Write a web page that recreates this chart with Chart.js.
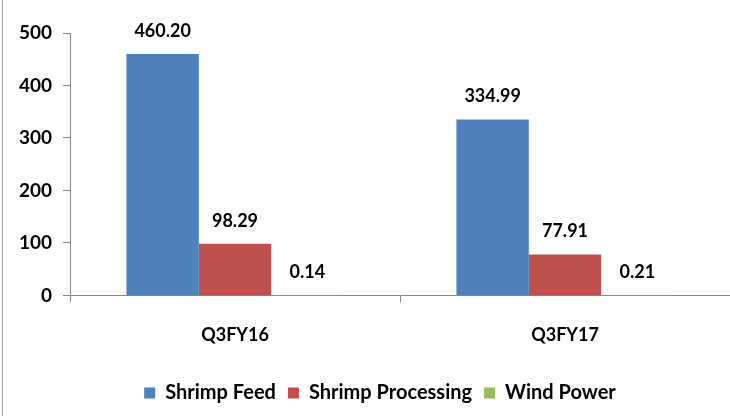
<!DOCTYPE html>
<html><head><meta charset="utf-8">
<script src="https://cdn.jsdelivr.net/npm/chart.js@4"></script>
<style>
html,body{margin:0;padding:0;background:#fff;}
#wrap{position:relative;width:730px;height:416px;overflow:hidden;}
#edge{position:absolute;left:2px;top:0;width:1px;height:416px;background:#a6a6a6;}
canvas{display:block;}
</style></head><body>
<div id="wrap"><canvas id="c" width="730" height="416"></canvas><div id="edge"></div></div>
<script>
const categories = ['Q3FY16', 'Q3FY17'];
const seriesNames = ['Shrimp Feed', 'Shrimp Processing', 'Wind Power'];
const shrimpFeed = [460.20, 334.99];
const shrimpProcessing = [98.29, 77.91];
const windPower = [0.14, 0.21];
const yTickValues = [0, 100, 200, 300, 400, 500];

const FONT = "Lato, 'Open Sans', sans-serif";
const AXIS = '#868686';

const valueLabels = {
  id: 'valueLabels',
  afterDatasetsDraw(chart) {
    const ctx = chart.ctx;
    ctx.save();
    ctx.font = 'bold 18px ' + FONT;
    ctx.fillStyle = '#000';
    ctx.textAlign = 'center';
    ctx.textBaseline = 'middle';
    chart.data.datasets.forEach((ds, i) => {
      chart.getDatasetMeta(i).data.forEach((bar, j) => {
        ctx.fillText(ds.data[j].toFixed(2), bar.x, bar.y - 23);
      });
    });
    ctx.restore();
  }
};

const legendShift = {
  id: 'legendShift',
  afterLayout(chart) {
    if (chart.legend) { chart.legend.left += 30; chart.legend.top += 3; chart.legend.bottom += 3; }
  }
};

new Chart(document.getElementById('c'), {
  type: 'bar',
  data: {
    labels: categories,
    datasets: [
      { label: seriesNames[0], data: shrimpFeed, backgroundColor: '#4F81BD' },
      { label: seriesNames[1], data: shrimpProcessing, backgroundColor: '#C0504D' },
      { label: seriesNames[2], data: windPower, backgroundColor: '#9BBB59' }
    ]
  },
  options: {
    responsive: false,
    animation: false,
    devicePixelRatio: 1,
    layout: { padding: { top: 33, right: 0, bottom: 6, left: 0 } },
    datasets: { bar: { categoryPercentage: 0.658, barPercentage: 1.0, borderWidth: 0 } },
    plugins: {
      tooltip: { enabled: false },
      title: { display: false },
      legend: {
        position: 'bottom',
        labels: {
          boxWidth: 11, boxHeight: 11, padding: 12, color: '#000',
          font: { family: FONT, size: 20, weight: 'bold' }
        }
      }
    },
    scales: {
      x: {
        grid: { offset: true, drawOnChartArea: false, drawTicks: true, tickLength: 7, color: AXIS },
        border: { color: AXIS, width: 1 },
        ticks: { color: '#000', padding: 22, font: { family: FONT, size: 18, weight: 'bold' } }
      },
      y: {
        min: 0, max: 500,
        afterBuildTicks(scale) { scale.ticks = yTickValues.map(v => ({ value: v })); },
        afterFit(scale) { scale.width = 70; },
        grid: { drawOnChartArea: false, drawTicks: true, tickLength: 7, color: AXIS },
        border: { color: AXIS, width: 1 },
        ticks: { color: '#000', padding: 11, font: { family: FONT, size: 19, weight: 'bold' } }
      }
    }
  },
  plugins: [valueLabels, legendShift]
});
</script>
</body></html>
